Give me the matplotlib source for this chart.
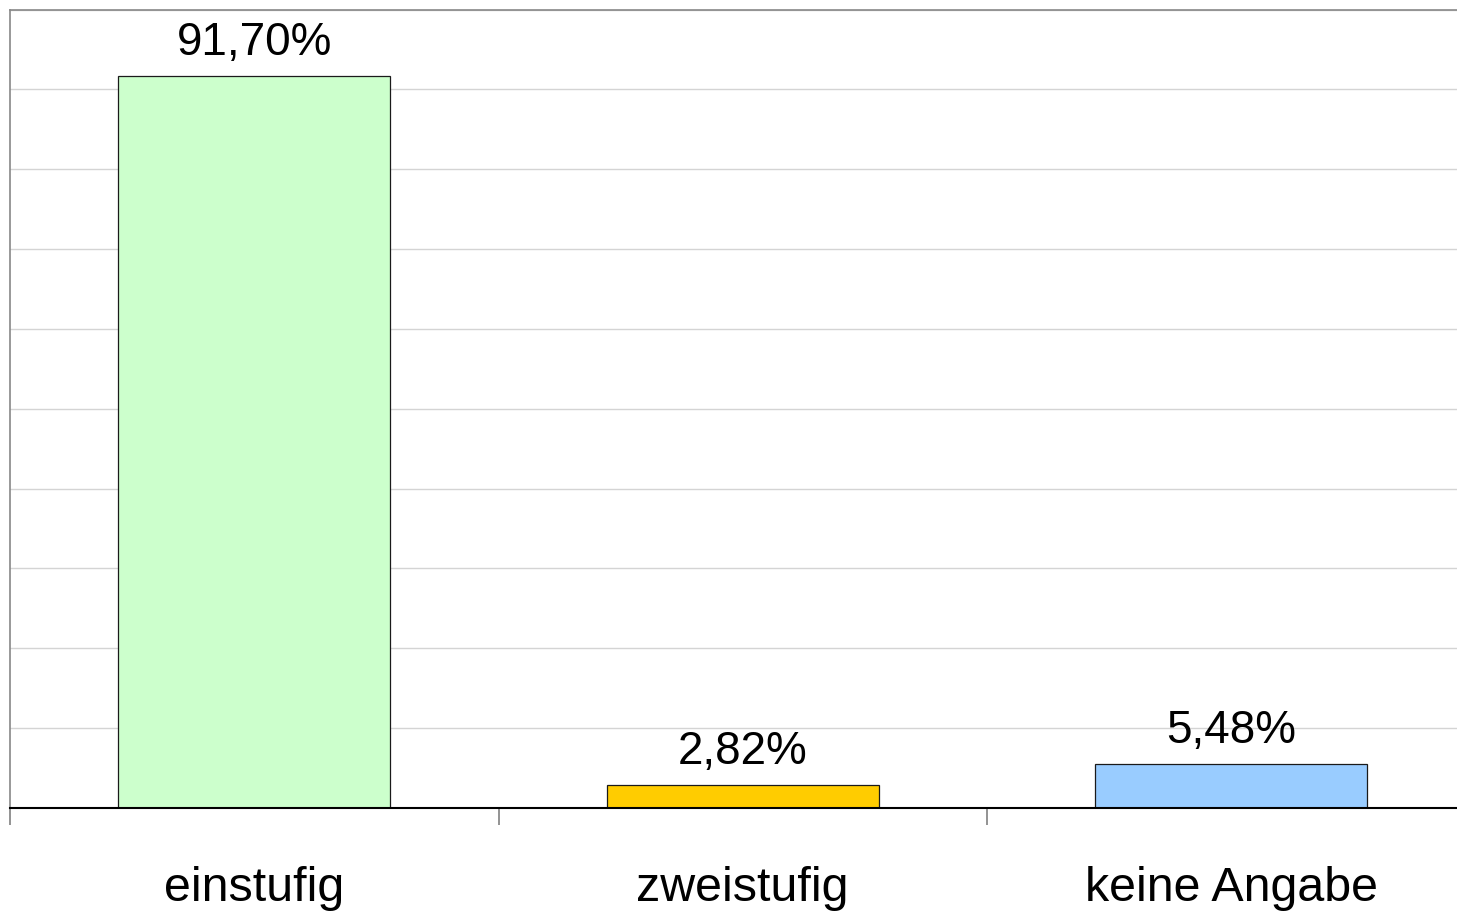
import matplotlib
matplotlib.use("Agg")
import matplotlib.pyplot as plt
from matplotlib.ticker import MultipleLocator, FixedLocator, NullFormatter

categories = ["einstufig", "zweistufig", "keine Angabe"]
values = [91.70, 2.82, 5.48]
value_labels = ["91,70%", "2,82%", "5,48%"]
colors = ["#ccffcc", "#ffcc00", "#99ccff"]

plt.rcParams['font.family'] = ['Liberation Sans', 'DejaVu Sans']

W, H = 1457, 912
fig = plt.figure(figsize=(W / 100, H / 100), dpi=100)
left, right, top, bottom = 10, 1475.5, 10.5, 809
ax = fig.add_axes([left / W, (H - bottom) / H, (right - left) / W, (bottom - top) / H])

x = list(range(len(categories)))
ax.bar(x, values, width=0.557, color=colors, edgecolor="#1a1a1a", linewidth=0.9, zorder=3)

ax.set_xlim(-0.5, len(categories) - 0.5)
ax.set_ylim(0, 100)
ax.yaxis.set_major_locator(MultipleLocator(10))
ax.yaxis.grid(True, color="#d4d4d4", linewidth=1.0, zorder=0)
ax.tick_params(axis="y", length=0, labelleft=False)

ax.xaxis.set_major_locator(FixedLocator([i - 0.5 for i in range(len(categories) + 1)]))
ax.xaxis.set_major_formatter(NullFormatter())
ax.tick_params(axis="x", which="major", length=12.2, width=1.2, color="#808080", direction="out")

for i, cat in enumerate(categories):
    ax.annotate(cat, xy=(i, 0), xycoords=("data", "axes fraction"), xytext=(0, -66),
                textcoords="offset points", ha="center", va="baseline", fontsize=34.8)

for i, (v, lab) in enumerate(zip(values, value_labels)):
    ax.annotate(lab, xy=(i, v), xytext=(0, 16), textcoords="offset points",
                ha="center", va="baseline", fontsize=33)

ax.spines["right"].set_visible(False)
ax.spines["top"].set_color("#888888")
ax.spines["left"].set_color("#888888")
ax.spines["top"].set_linewidth(1.2)
ax.spines["left"].set_linewidth(1.2)
ax.spines["bottom"].set_color("black")
ax.spines["bottom"].set_linewidth(1.5)
ax.spines["bottom"].set_zorder(4)

fig.savefig("out.png", dpi=100)
